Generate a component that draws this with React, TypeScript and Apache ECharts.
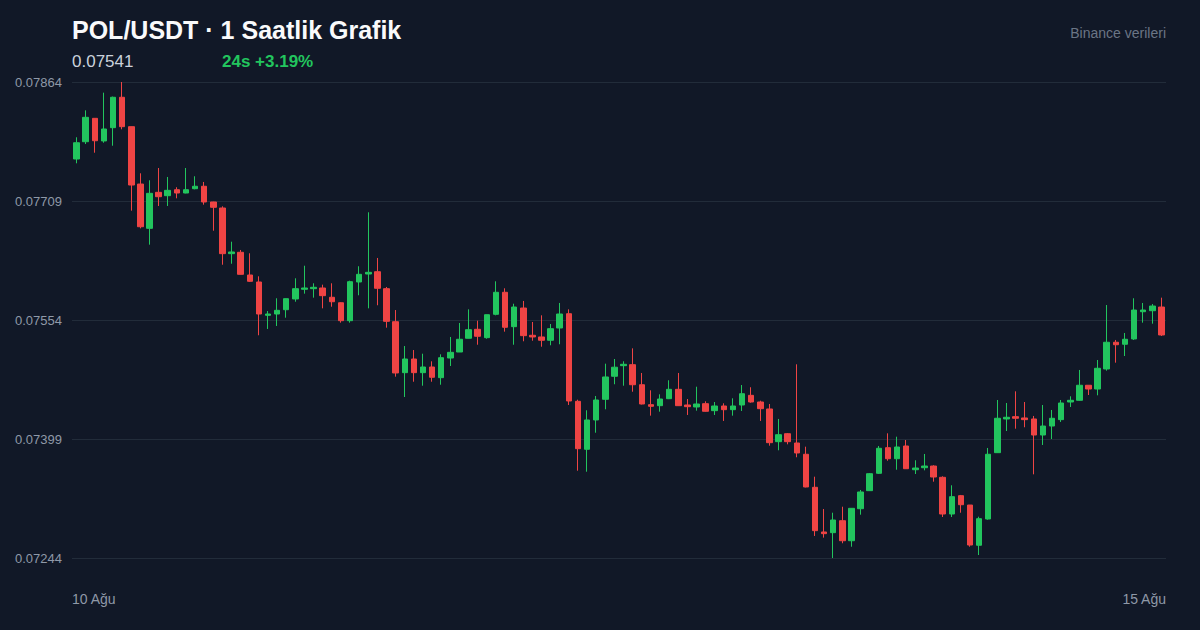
import React, { useEffect, useRef } from "react";
import * as echarts from "echarts";

const opens = [
  0.077637, 0.077862, 0.078167, 0.077872, 0.078045, 0.078441, 0.078058, 0.077311, 0.076734, 0.077203,
  0.077159, 0.077237, 0.077194, 0.07725, 0.077282, 0.077077, 0.076999, 0.076404, 0.076422, 0.076126,
  0.076035, 0.075601, 0.075618, 0.075674, 0.075814, 0.07594, 0.075948, 0.075957, 0.075836, 0.075765,
  0.075531, 0.076035, 0.076139, 0.076169, 0.075948, 0.075518, 0.074854, 0.075032, 0.074854, 0.074928,
  0.074789, 0.075045, 0.075123, 0.075302, 0.075419, 0.07531, 0.075614, 0.075901, 0.075453, 0.075696,
  0.075341, 0.075319, 0.075276, 0.075436, 0.075622, 0.074481, 0.073856, 0.074238, 0.074507, 0.074807,
  0.074945, 0.074958, 0.074697, 0.074437, 0.074424, 0.074515, 0.074637, 0.074433, 0.074407, 0.07445,
  0.074359, 0.07442, 0.074372, 0.074433, 0.074559, 0.074472, 0.074381, 0.073955, 0.074059, 0.073938,
  0.073791, 0.073361, 0.072779, 0.07277, 0.072926, 0.072665, 0.073082, 0.073317, 0.073543, 0.073877,
  0.073733, 0.073899, 0.07359, 0.073616, 0.073638, 0.073491, 0.073013, 0.073252, 0.07313, 0.072606,
  0.072948, 0.073812, 0.074251, 0.074281, 0.074264, 0.074251, 0.074042, 0.074159, 0.074242, 0.074472,
  0.074494, 0.07469, 0.074641, 0.074902, 0.07525, 0.075224, 0.075293, 0.075648, 0.075661, 0.075709,
];

const closes = [
  0.077849, 0.07818, 0.077875, 0.078028, 0.078441, 0.078058, 0.077298, 0.076755, 0.07719, 0.077146,
  0.077229, 0.077194, 0.077237, 0.077282, 0.077077, 0.077008, 0.076404, 0.076426, 0.076135, 0.076044,
  0.075618, 0.075618, 0.075666, 0.075818, 0.075948, 0.075957, 0.075966, 0.075857, 0.075778, 0.075531,
  0.076039, 0.076135, 0.076161, 0.075953, 0.075523, 0.07485, 0.075032, 0.074854, 0.074928, 0.074794,
  0.075049, 0.075119, 0.075289, 0.075414, 0.075328, 0.075609, 0.075901, 0.075445, 0.075709, 0.075336,
  0.075319, 0.075276, 0.075427, 0.075618, 0.074485, 0.073864, 0.074238, 0.074498, 0.074798, 0.074925,
  0.074963, 0.074697, 0.074446, 0.074416, 0.074511, 0.074637, 0.074424, 0.074411, 0.074446, 0.074351,
  0.07442, 0.074372, 0.07442, 0.07458, 0.074472, 0.074385, 0.073942, 0.074046, 0.073955, 0.073808,
  0.073365, 0.072796, 0.072757, 0.072935, 0.072665, 0.073087, 0.0733, 0.073538, 0.073869, 0.073733,
  0.073886, 0.073603, 0.073612, 0.073638, 0.073495, 0.073013, 0.073239, 0.073134, 0.072609, 0.072952,
  0.073791, 0.07426, 0.074273, 0.07426, 0.074242, 0.074042, 0.074159, 0.07426, 0.074459, 0.074494,
  0.07469, 0.074641, 0.074911, 0.07525, 0.075218, 0.075289, 0.07567, 0.07567, 0.075722, 0.075345,
];

const lows = [
  0.077581, 0.077832, 0.077719, 0.077849, 0.07781, 0.078024, 0.076964, 0.076734, 0.076521, 0.077025,
  0.077025, 0.077125, 0.07719, 0.077242, 0.077042, 0.076703, 0.07626, 0.076273, 0.076133, 0.076035,
  0.075341, 0.075423, 0.075462, 0.07557, 0.075778, 0.075883, 0.075831, 0.075692, 0.075713, 0.075505,
  0.075505, 0.075862, 0.075692, 0.075732, 0.07544, 0.074802, 0.074537, 0.074736, 0.074684, 0.074736,
  0.074697, 0.074941, 0.075123, 0.0753, 0.075218, 0.075296, 0.075601, 0.075388, 0.075218, 0.075263,
  0.07527, 0.075192, 0.075211, 0.075224, 0.074433, 0.073577, 0.073564, 0.074072, 0.074377, 0.074703,
  0.074684, 0.074606, 0.07444, 0.074294, 0.074346, 0.07451, 0.07442, 0.074303, 0.074359, 0.074346,
  0.074303, 0.074225, 0.074294, 0.074355, 0.074463, 0.074225, 0.073903, 0.073843, 0.073921, 0.073752,
  0.07336, 0.072727, 0.072705, 0.07244, 0.072632, 0.072587, 0.073004, 0.073317, 0.073534, 0.073707,
  0.07359, 0.0736, 0.073534, 0.073582, 0.073434, 0.072974, 0.072974, 0.07303, 0.072587, 0.072479,
  0.072939, 0.07381, 0.074094, 0.074124, 0.074143, 0.07353, 0.073912, 0.07399, 0.074212, 0.074407,
  0.07449, 0.074563, 0.074559, 0.07488, 0.074984, 0.075071, 0.07528, 0.075505, 0.075492, 0.075332,
];

const highs = [
  0.07792, 0.078271, 0.07817, 0.078501, 0.07845, 0.07864, 0.07806, 0.077451, 0.07736, 0.07752,
  0.077403, 0.077269, 0.07752, 0.077412, 0.077338, 0.07708, 0.077021, 0.07656, 0.076452, 0.076409,
  0.076109, 0.075657, 0.075823, 0.07582, 0.076083, 0.076247, 0.076018, 0.076, 0.076018, 0.07577,
  0.076052, 0.07624, 0.076943, 0.076348, 0.07597, 0.07567, 0.075201, 0.075149, 0.075101, 0.075002,
  0.075093, 0.075319, 0.075501, 0.075679, 0.075531, 0.07561, 0.076044, 0.075953, 0.075752, 0.075788,
  0.075514, 0.075601, 0.075488, 0.075762, 0.075679, 0.074502, 0.074364, 0.07455, 0.074971, 0.075032,
  0.075002, 0.075171, 0.07485, 0.074624, 0.074572, 0.074755, 0.07485, 0.074511, 0.074671, 0.074481,
  0.074472, 0.074455, 0.07452, 0.074693, 0.074664, 0.074489, 0.074446, 0.074251, 0.074068, 0.074963,
  0.07389, 0.073499, 0.073078, 0.07303, 0.073108, 0.07309, 0.073326, 0.073547, 0.073899, 0.074064,
  0.07402, 0.073977, 0.073713, 0.073795, 0.073648, 0.073504, 0.073387, 0.073261, 0.07313, 0.072978,
  0.073873, 0.074498, 0.074459, 0.074611, 0.074472, 0.07429, 0.074433, 0.074368, 0.074498, 0.074546,
  0.074889, 0.07469, 0.075019, 0.075735, 0.07528, 0.075371, 0.075823, 0.075762, 0.075748, 0.075831,
];

const yMin = 0.07244;
const yMax = 0.07864;
const yStep = 0.00155;
const dateLabels = ["10 Ağu", "15 Ağu"];
const titleText = "POL/USDT · 1 Saatlik Grafik";
const lastPriceText = "0.07541";
const changeText = "24s +3.19%";
const sourceText = "Binance verileri";

const UP = "#22c55e";
const DOWN = "#ef4444";
const FONT = "'Liberation Sans', Arial, Helvetica, sans-serif";
const AXIS_TEXT = "#8f99a8";

export default function App() {
  const ref = useRef<HTMLDivElement>(null);

  useEffect(() => {
    document.body.style.margin = "0";
    document.body.style.background = "#111827";
    const chart = echarts.init(ref.current!, null, { renderer: "svg" });
    const categories = opens.map((_, i) => String(i));
    const data = opens.map((o, i) => [o, closes[i], lows[i], highs[i]]);

    chart.setOption({
      animation: false,
      backgroundColor: "#111827",
      textStyle: { fontFamily: FONT },
      grid: { left: 72, right: 34, top: 82, bottom: 72 },
      xAxis: [
        {
          type: "category",
          data: categories,
          boundaryGap: true,
          axisLine: { show: false },
          axisTick: { show: false },
          axisLabel: { show: false },
          splitLine: { show: false },
        },
        {
          type: "category",
          data: dateLabels,
          boundaryGap: false,
          position: "bottom",
          axisLine: { show: false },
          axisTick: { show: false },
          splitLine: { show: false },
          axisLabel: {
            show: true,
            interval: 0,
            margin: 34,
            color: AXIS_TEXT,
            fontSize: 14,
            fontFamily: FONT,
            alignMinLabel: "left",
            alignMaxLabel: "right",
          },
        },
      ],
      yAxis: {
        type: "value",
        min: yMin,
        max: yMax,
        interval: yStep,
        axisLine: { show: false },
        axisTick: { show: false },
        splitLine: { show: true, lineStyle: { color: "#222c3a", width: 1 } },
        axisLabel: {
          margin: 10,
          color: AXIS_TEXT,
          fontSize: 13,
          fontFamily: FONT,
          formatter: (v: number) => v.toFixed(5),
        },
      },
      series: [
        {
          type: "candlestick",
          xAxisIndex: 0,
          data,
          barWidth: 6,
          itemStyle: {
            color: UP,
            color0: DOWN,
            borderColor: UP,
            borderColor0: DOWN,
            borderWidth: 1,
          },
        },
      ],
      graphic: [
        {
          type: "text",
          x: 72,
          y: 30,
          style: {
            text: titleText,
            fill: "#f9fafb",
            font: `bold 25px ${FONT}`,
            verticalAlign: "middle",
            align: "left",
          },
        },
        {
          type: "text",
          x: 72,
          y: 61,
          style: {
            text: lastPriceText,
            fill: "#cbd2dc",
            font: `17px ${FONT}`,
            verticalAlign: "middle",
            align: "left",
          },
        },
        {
          type: "text",
          x: 222,
          y: 61,
          style: {
            text: changeText,
            fill: UP,
            font: `bold 17px ${FONT}`,
            verticalAlign: "middle",
            align: "left",
          },
        },
        {
          type: "text",
          x: 1166,
          y: 33,
          style: {
            text: sourceText,
            fill: "#6b7585",
            font: `14px ${FONT}`,
            verticalAlign: "middle",
            align: "right",
          },
        },
      ],
    });

    return () => chart.dispose();
  }, []);

  return <div ref={ref} style={{ width: 1200, height: 630 }} />;
}
